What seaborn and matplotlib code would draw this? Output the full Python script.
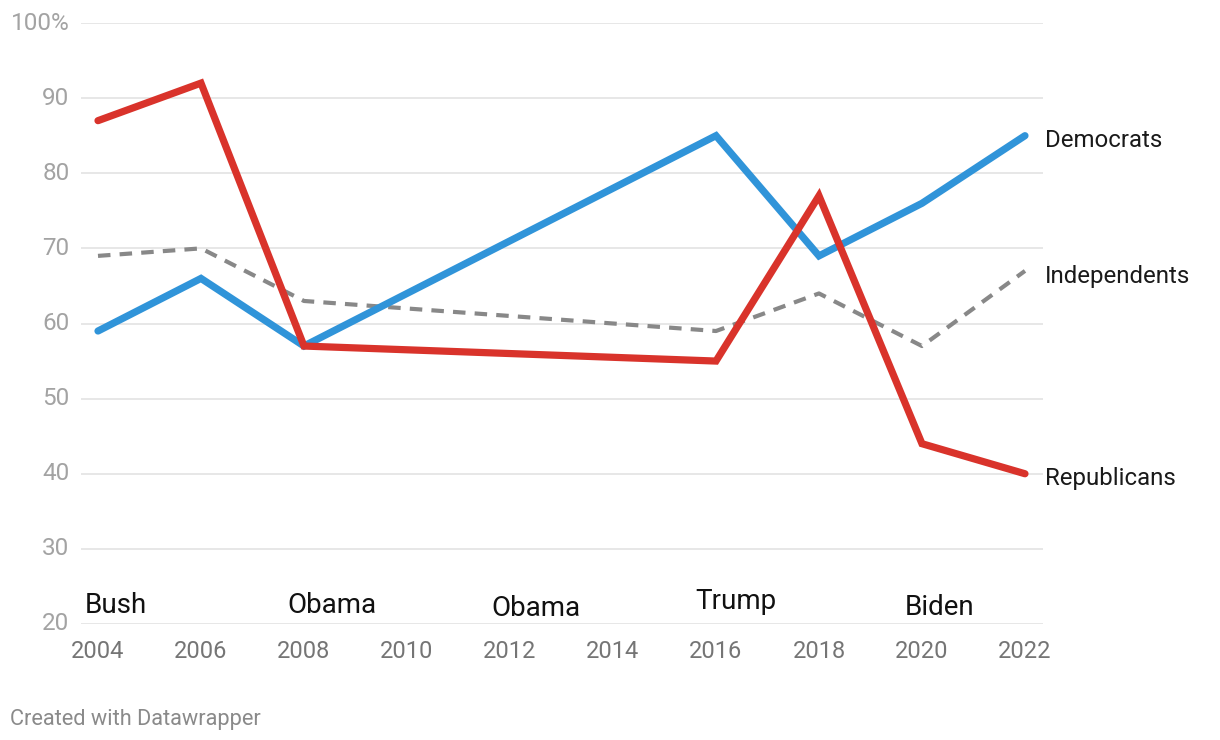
import matplotlib
matplotlib.use("Agg")
import matplotlib.pyplot as plt
import seaborn as sns
import pandas as pd

years = [2004, 2006, 2008, 2016, 2018, 2020, 2022]
democrats = [59, 66, 57, 85, 69, 76, 85]
republicans = [87, 92, 57, 55, 77, 44, 40]
independents = [69, 70, 63, 59, 64, 57, 67]

series_names = ["Democrats", "Independents", "Republicans"]
series_colors = {"Democrats": "#3094d9", "Republicans": "#d9332b", "Independents": "#888888"}

presidents = ["Bush", "Obama", "Obama", "Trump", "Biden"]
president_x = [2003.75, 2007.67, 2011.63, 2015.59, 2019.67]
president_y = [22.5, 22.5, 22.0, 23.05, 22.25]

x_ticks = [2004, 2006, 2008, 2010, 2012, 2014, 2016, 2018, 2020, 2022]
y_ticks = [20, 30, 40, 50, 60, 70, 80, 90, 100]
y_ticklabels = ["20", "30", "40", "50", "60", "70", "80", "90", "100%"]

df = pd.DataFrame({
    "year": years * 3,
    "value": democrats + independents + republicans,
    "party": ["Democrats"] * len(years) + ["Independents"] * len(years) + ["Republicans"] * len(years),
})

sns.set_theme(style="white")
plt.rcParams["font.family"] = ["Roboto", "DejaVu Sans"]

fig = plt.figure(figsize=(12.2, 7.4), dpi=100)
ax = fig.add_axes([81 / 1220, 1 - 624 / 740, (1043 - 81) / 1220, (624 - 23) / 740])

# gridlines
for yv in y_ticks:
    ax.axhline(yv, color="#e5e5e5", lw=1.3, zorder=0)

order_draw = ["Independents", "Democrats", "Republicans"]
for name in order_draw:
    sub = df[df["party"] == name]
    sns.lineplot(data=sub, x="year", y="value", ax=ax, color=series_colors[name],
                 lw=3 if name == "Independents" else 5.2,
                 linestyle=(0, (3.0, 2.2)) if name == "Independents" else "-",
                 solid_capstyle="round", solid_joinstyle="miter", dash_capstyle="butt",
                 legend=False, clip_on=False, zorder=3 if name != "Independents" else 2)

ax.set_xlim(2003.67, 2022.35)
ax.set_ylim(20, 100)
ax.set_xticks(x_ticks)
ax.set_xticklabels([str(x) for x in x_ticks])
ax.set_yticks(y_ticks)
ax.set_yticklabels(y_ticklabels)
ax.tick_params(axis="x", length=0, pad=11.5, labelsize=17, labelcolor="#757575")
ax.tick_params(axis="y", length=0, pad=8.2, labelsize=17.5, labelcolor="#a3a3a3")
for lab in ax.get_yticklabels():
    lab.set_verticalalignment("center")
ax.set_xlabel("")
ax.set_ylabel("")
for s in ax.spines.values():
    s.set_visible(False)
ax.grid(False)

# end labels
end_vals = {"Democrats": democrats[-1], "Independents": independents[-1], "Republicans": republicans[-1]}
end_offsets = {"Democrats": -0.6, "Independents": -0.7, "Republicans": -0.6}
for name in series_names:
    ax.text(years[-1] + 0.38, end_vals[name] + end_offsets[name], name, fontsize=17.3,
            color="#1a1a1a", ha="left", va="center", clip_on=False)

for lab, xv, yv in zip(presidents, president_x, president_y):
    ax.text(xv, yv, lab, fontsize=20, color="#111111", ha="left", va="center")

fig.text(10 / 1220, 1 - 719 / 740, "Created with Datawrapper", fontsize=15.7,
         color="#8a8a8a", ha="left", va="center")

fig.savefig("out.png", dpi=100, facecolor="white")
